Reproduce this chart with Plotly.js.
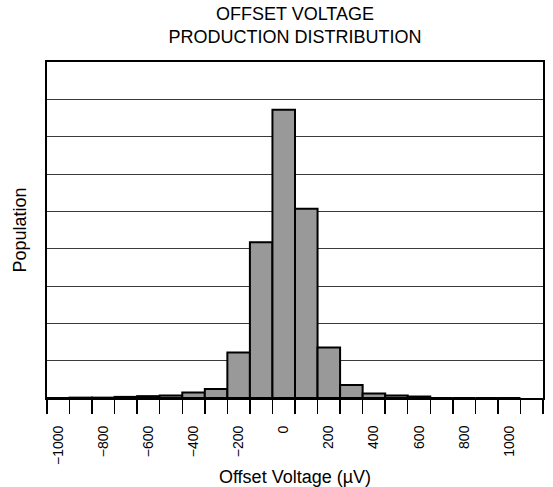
<!DOCTYPE html>
<html>
<head>
<meta charset="utf-8">
<script src="https://cdn.plot.ly/plotly-3.0.1.min.js"></script>
<style>html,body{margin:0;padding:0;background:#fff;}#chart{width:553px;height:487px;}</style>
</head>
<body>
<div id="chart"></div>
<script>
const binCenters = [-1000, -900, -800, -700, -600, -500, -400, -300, -200, -100, 0, 100, 200, 300, 400, 500, 600, 700, 800, 900, 1000];
const population = [0, 0.01, 0.01, 0.03, 0.05, 0.07, 0.15, 0.24, 1.22, 4.17, 7.72, 5.07, 1.35, 0.35, 0.12, 0.065, 0.04, 0, 0, 0, 0];
const tickValues = [-1000, -800, -600, -400, -200, 0, 200, 400, 600, 800, 1000];
const tickLabels = ["\u22121000", "\u2212800", "\u2212600", "\u2212400", "\u2212200", "0", "200", "400", "600", "800", "1000"];

const font = "Liberation Sans, Arial, sans-serif";

const trace = {
  type: "bar",
  x: binCenters,
  y: population,
  width: 100,
  marker: {color: "#999999", line: {color: "#000000", width: 2}},
  hoverinfo: "x+y"
};

const layout = {
  width: 553,
  height: 487,
  margin: {l: 47, r: 10, t: 62, b: 89},
  paper_bgcolor: "#ffffff",
  plot_bgcolor: "#ffffff",
  font: {family: font, color: "#000000", size: 18},
  showlegend: false,
  bargap: 0,
  title: {
    text: "OFFSET VOLTAGE<br>PRODUCTION DISTRIBUTION",
    font: {family: font, size: 18, color: "#000000"},
    x: 0.5, xref: "paper", xanchor: "center",
    y: 0.959, yref: "container", yanchor: "bottom",
    automargin: false
  },
  xaxis: {
    range: [-1050, 1150],
    tickmode: "array",
    tickvals: tickValues,
    ticktext: tickLabels,
    tickangle: -90,
    ticks: "",
    ticklabelstandoff: 20,
    tickfont: {family: font, size: 14, color: "#000000"},
    minor: {tick0: -50, dtick: 100, ticks: "outside", ticklen: 14, tickwidth: 1.5, tickcolor: "#000000", showgrid: false},
    showgrid: false,
    zeroline: false,
    showline: true,
    linecolor: "#000000",
    linewidth: 2,
    mirror: true,
    title: {text: "Offset Voltage (\u00b5V)", font: {family: font, size: 18, color: "#000000"}, standoff: 6}
  },
  yaxis: {
    range: [0, 9],
    dtick: 1,
    tick0: 0,
    showticklabels: false,
    ticks: "",
    showgrid: true,
    gridcolor: "#3a3a3a",
    gridwidth: 1,
    zeroline: false,
    showline: true,
    linecolor: "#000000",
    linewidth: 2,
    mirror: true,
    title: {text: "Population", font: {family: font, size: 18, color: "#000000"}, standoff: 14}
  }
};

Plotly.newPlot("chart", [trace], layout, {displayModeBar: false, staticPlot: true});
</script>
</body>
</html>
